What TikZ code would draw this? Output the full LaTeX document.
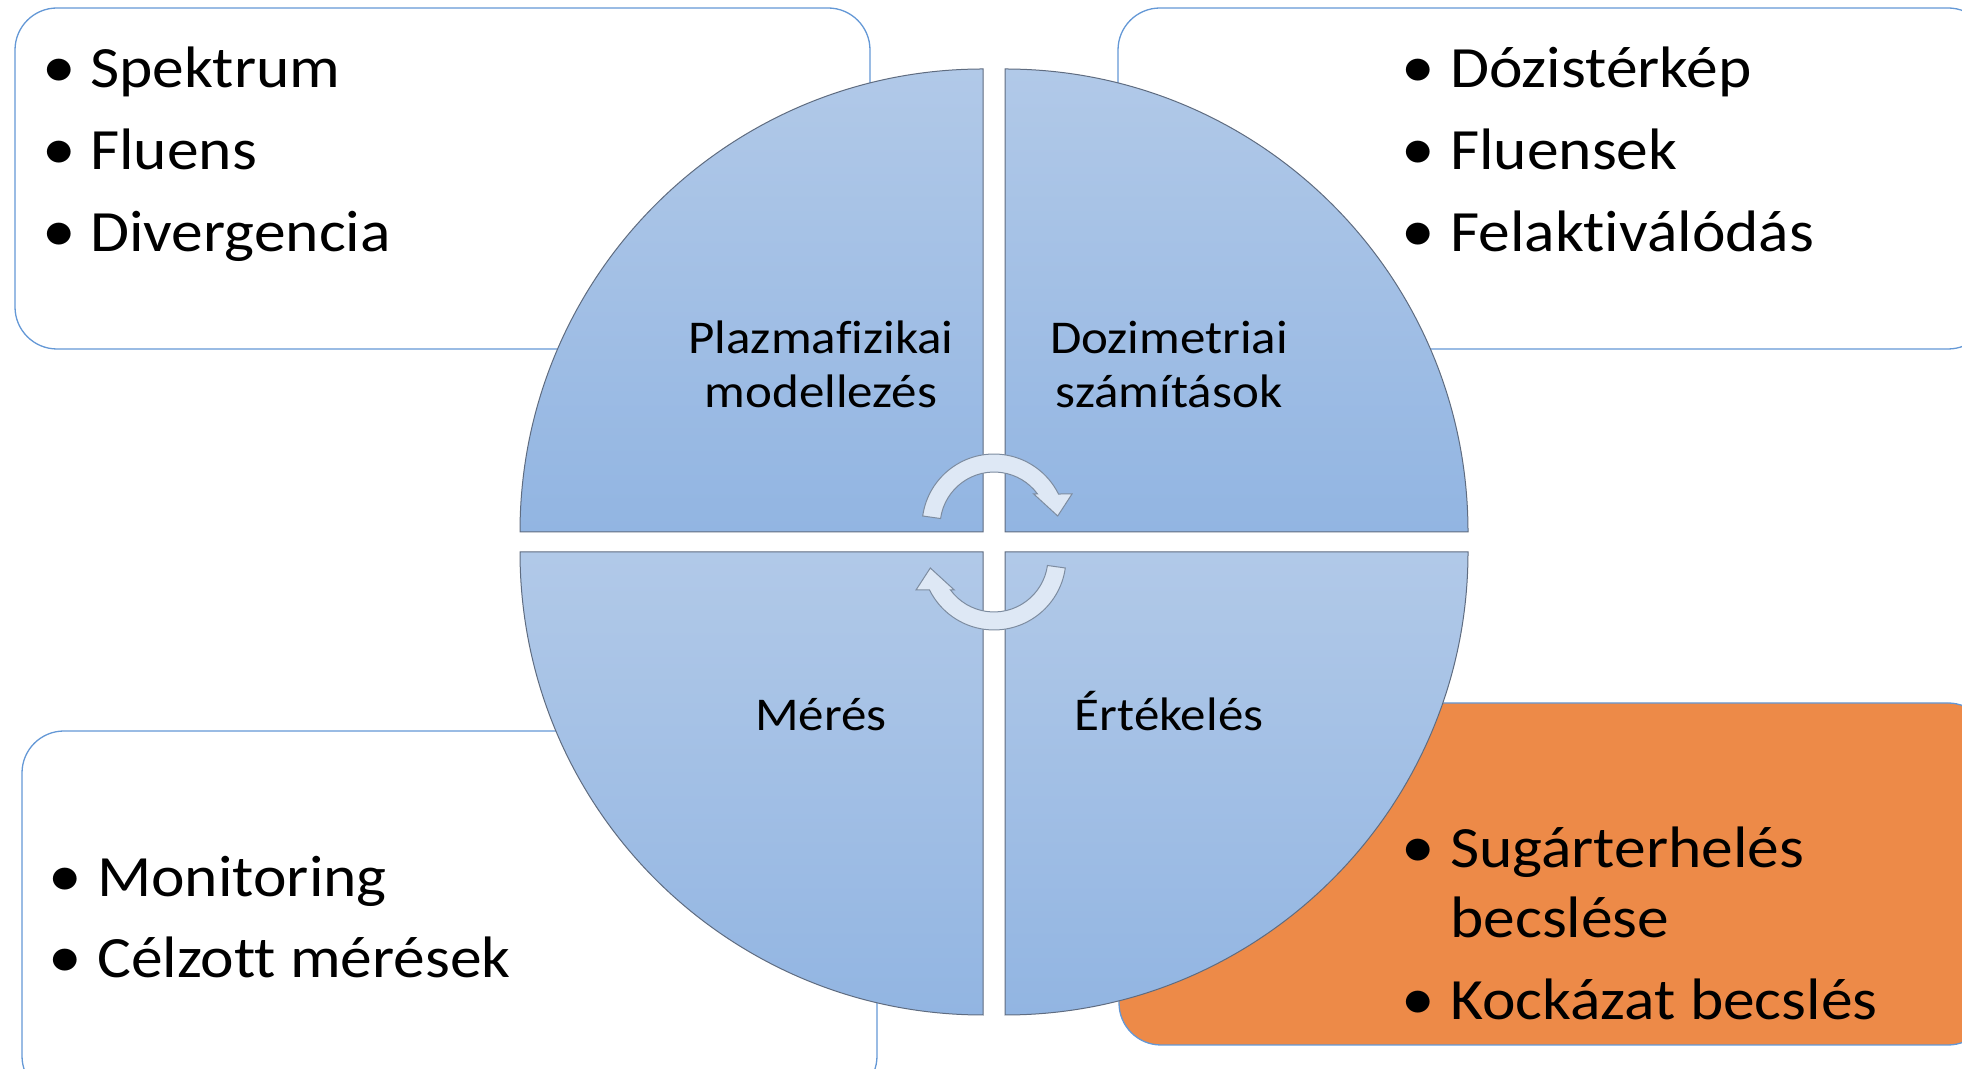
\documentclass[tikz,border=0pt]{standalone}
\usepackage{fontspec}
\setmainfont{Carlito}[FakeStretch=1.085, Ligatures={NoCommon,NoDiscretionary}]
\definecolor{boxline}{RGB}{100,152,214}
\definecolor{qtop}{RGB}{177,201,232}
\definecolor{qbot}{RGB}{146,181,226}
\definecolor{qline}{RGB}{95,108,128}
\definecolor{arrfill}{RGB}{222,232,245}
\definecolor{arrline}{RGB}{125,140,160}
\definecolor{orangefill}{RGB}{237,138,72}
\tikzset{
  infobox/.style={draw=boxline, line width=1.3pt, rounded corners=42pt},
  quad/.style={draw=qline, line width=1pt, top color=qtop, bottom color=qbot},
  bigtxt/.style={font=\fontsize{58.5}{70}\selectfont, inner sep=0pt, anchor=base west},
  bul/.style={font=\fontsize{62}{70}\selectfont, inner sep=0pt, anchor=base},
  lbl/.style={font=\fontsize{47}{54}\selectfont, inner sep=0pt, anchor=base},
  cyc/.style={draw=arrline, line width=1pt, fill=arrfill}
}
\begin{document}
\begin{tikzpicture}[x=1pt,y=1pt]
\path[use as bounding box, clip] (0,0) rectangle (1962,1068);
% info boxes
\path[infobox, fill=white] (15,719) rectangle (870,1060);
\path[infobox, fill=white] (1118,719) rectangle (1990,1060);
\path[infobox, fill=white] (22,-30) rectangle (877,337);
\path[infobox, fill=orangefill] (1119,23) rectangle (1990,365);
% quadrants
\path[quad] (983,536) -- (520,536) arc[start angle=180, end angle=90, radius=463] -- cycle;
\path[quad] (1005,536) -- (1005,999) arc[start angle=90, end angle=0, radius=463] -- cycle;
\path[quad] (983,516) -- (520,516) arc[start angle=180, end angle=270, radius=463] -- cycle;
\path[quad] (1005,516) -- (1468,516) arc[start angle=0, end angle=-90, radius=463] -- cycle;
% cycle arrows
\path[cyc] (922.7,552) arc[start angle=172, end angle=26.4, radius=72]
  -- (1072,574) -- (1057.7,552) -- (1033.7,574) -- (1037.5,574)
  arc[start angle=36.4, end angle=172, radius=54] -- cycle;
\path[cyc] (1065.3,500) arc[start angle=352, end angle=206.4, radius=72]
  -- (916,478) -- (930.3,500) -- (954.3,478) -- (950.5,478)
  arc[start angle=216.4, end angle=352, radius=54] -- cycle;
% quadrant labels
\node[lbl] (q1a) at (821,714) {Plazmafizikai};
\node[lbl] (q1b) at (821,660) {modellezés};
\node[lbl] (q2a) at (1169,714) {Dozimetriai};
\node[lbl] (q2b) at (1169,660) {számítások};
\node[lbl] (q3) at (821,337) {Mérés};
\node[lbl] (q4) at (1169,337) {Értékelés};
% top-left box
\node[bul] (tlb1) at (59,980) {•};
\node[bigtxt] (tlt1) at (90,980) {Spektrum};
\node[bul] (tlb2) at (59,898) {•};
\node[bigtxt] (tlt2) at (90,898) {Fluens};
\node[bul] (tlb3) at (59,816) {•};
\node[bigtxt] (tlt3) at (90,816) {Divergencia};
% top-right box
\node[bul] (trb1) at (1418,980) {•};
\node[bigtxt] (trt1) at (1450,980) {Dózistérkép};
\node[bul] (trb2) at (1418,898) {•};
\node[bigtxt] (trt2) at (1450,898) {Fluensek};
\node[bul] (trb3) at (1418,816) {•};
\node[bigtxt] (trt3) at (1450,816) {Felaktiválódás};
% bottom-left box
\node[bul] (blb1) at (65,171) {•};
\node[bigtxt] (blt1) at (97,171) {Monitoring};
\node[bul] (blb2) at (65,90) {•};
\node[bigtxt] (blt2) at (97,90) {Célzott mérések};
% bottom-right box
\node[bul] (brb1) at (1418,200) {•};
\node[bigtxt] (brt1) at (1450,200) {Sugárterhelés};
\node[bigtxt] (brt1b) at (1450,130) {becslése};
\node[bul] (brb2) at (1418,48) {•};
\node[bigtxt] (brt2) at (1450,48) {Kockázat becslés};
\end{tikzpicture}
\end{document}
